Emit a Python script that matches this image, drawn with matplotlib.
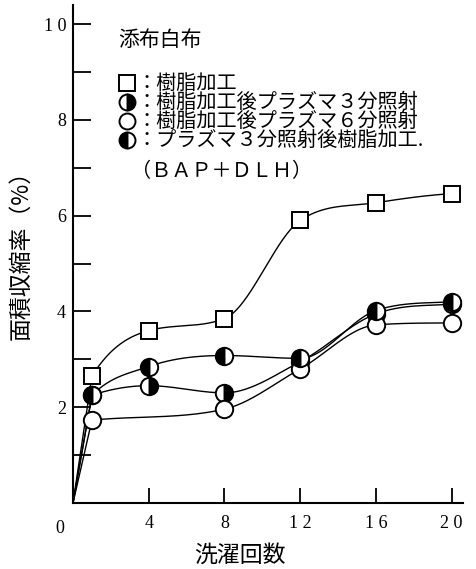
import matplotlib
matplotlib.use("Agg")
import matplotlib.pyplot as plt
from matplotlib.lines import Line2D
import numpy as np

plt.rcParams["font.family"] = ["Noto Sans CJK JP", "DejaVu Sans"]

# 洗濯回数
wash = [1, 4, 8, 12, 16, 20]
wash_p6 = [1, 8, 12, 16, 20]

jushi = [2.65, 3.6, 3.85, 5.9, 6.27, 6.46]           # 樹脂加工
jushi_p3 = [2.25, 2.45, 2.3, 2.95, 3.95, 4.15]       # 樹脂加工後プラズマ3分照射
jushi_p6 = [1.73, 1.96, 2.8, 3.72, 3.76]             # 樹脂加工後プラズマ6分照射
p3_jushi = [2.25, 2.85, 3.08, 3.02, 4.02, 4.2]       # プラズマ3分照射後樹脂加工

labels = ["樹脂加工", "樹脂加工後プラズマ３分照射",
          "樹脂加工後プラズマ６分照射", "プラズマ３分照射後樹脂加工."]

ytick_vals = [2, 4, 6, 8, 10]
ytick_text = ["2", "4", "6", "8", "1 0"]
xtick_vals = [4, 8, 12, 16, 20]
xtick_text = ["4", "8", "1 2", "1 6", "2 0"]


def smooth(x, y, xs):
    # cubic hermite through the points, 3-point slopes with a monotone limiter
    x = np.asarray(x, float)
    y = np.asarray(y, float)
    h = np.diff(x)
    d = np.diff(y) / h
    m = np.zeros_like(y)
    for k in range(1, len(x) - 1):
        if d[k - 1] * d[k] > 0:
            m[k] = (d[k - 1] * h[k] + d[k] * h[k - 1]) / (h[k - 1] + h[k])
    m[0] = 2 * d[0]
    m[-1] = 0.5 * d[-1]
    for k in range(len(d)):
        if d[k] == 0:
            m[k] = m[k + 1] = 0
            continue
        a, b = m[k] / d[k], m[k + 1] / d[k]
        if a * a + b * b > 9:
            tau = 3 / np.hypot(a, b)
            m[k], m[k + 1] = tau * a * d[k], tau * b * d[k]
    idx = np.clip(np.searchsorted(x, xs) - 1, 0, len(x) - 2)
    t = (xs - x[idx]) / h[idx]
    h00 = 2 * t**3 - 3 * t**2 + 1
    h10 = t**3 - 2 * t**2 + t
    h01 = -2 * t**3 + 3 * t**2
    h11 = t**3 - t**2
    return h00 * y[idx] + h10 * h[idx] * m[idx] + h01 * y[idx + 1] + h11 * h[idx] * m[idx + 1]


fig = plt.figure(figsize=(4.76, 5.69), dpi=100)
ax = fig.add_axes([73 / 476, 66 / 569, 390 / 476, 498 / 569])

styles = [
    dict(marker="s", ms=12, mfc="white"),
    dict(marker="o", ms=12.5, mfc="black", fillstyle="right", mfcalt="white"),
    dict(marker="o", ms=12.5, mfc="white"),
    dict(marker="o", ms=12.5, mfc="black", fillstyle="left", mfcalt="white"),
]
series = [(wash, jushi), (wash, jushi_p3), (wash_p6, jushi_p6), (wash, p3_jushi)]

for (xv, yv), st in zip(series, styles):
    xs = np.linspace(xv[0], xv[-1], 300)
    ys = smooth(xv, yv, xs)
    ax.plot(np.r_[0, xs], np.r_[0, ys], color="black", lw=1.0, zorder=2)
    ax.plot(xv, yv, linestyle="none", marker=st["marker"], markersize=st["ms"],
            markerfacecolor=st["mfc"], markerfacecoloralt=st.get("mfcalt", "white"),
            fillstyle=st.get("fillstyle", "full"), markeredgecolor="black",
            markeredgewidth=1.4, zorder=3)

ax.set_xlim(0, 20.6)
ax.set_ylim(0, 10.4)
for s in ["top", "right"]:
    ax.spines[s].set_visible(False)
for s in ["left", "bottom"]:
    ax.spines[s].set_linewidth(1.5)

ax.set_yticks(ytick_vals)
ax.set_yticklabels(ytick_text, family="Liberation Serif", fontsize=13)
ax.set_yticks(np.arange(1, 10, 2), minor=True)
ax.tick_params(axis="y", which="both", direction="in", length=13, width=1.3, pad=5)
ax.set_xticks(xtick_vals)
ax.set_xticklabels(xtick_text, family="Liberation Serif", fontsize=13)
ax.tick_params(axis="x", direction="in", length=11, width=1.3, pad=9)
ax.text(-0.7, -0.35, "0", family="Liberation Serif", fontsize=13,
        ha="center", va="top")

fig.text(21 / 476, 1 - 249 / 569, "面積収縮率（%）", rotation=90,
         ha="center", va="center", fontsize=16.5)
fig.text(240 / 476, 1 - 555 / 569, "洗濯回数", ha="center", va="center", fontsize=16.5)

# legend block
fig.text(118 / 476, 1 - 40 / 569, "添布白布", ha="left", va="center", fontsize=15)
row_y = [83, 102, 121, 140]
for py, st, lab in zip(row_y, styles, labels):
    fig.add_artist(Line2D([127 / 476], [1 - py / 569], transform=fig.transFigure,
                          linestyle="none", marker=st["marker"], markersize=st["ms"] - 1,
                          markerfacecolor=st["mfc"],
                          markerfacecoloralt=st.get("mfcalt", "white"),
                          fillstyle=st.get("fillstyle", "full"),
                          markeredgecolor="black", markeredgewidth=1.4))
    fig.text(136 / 476, 1 - py / 569, "：" + lab, ha="left", va="center", fontsize=14.5)
fig.text(131 / 476, 1 - 172 / 569, "（ＢＡＰ＋ＤＬＨ）", ha="left", va="center", fontsize=14.5)

fig.savefig("out.png", dpi=100)
